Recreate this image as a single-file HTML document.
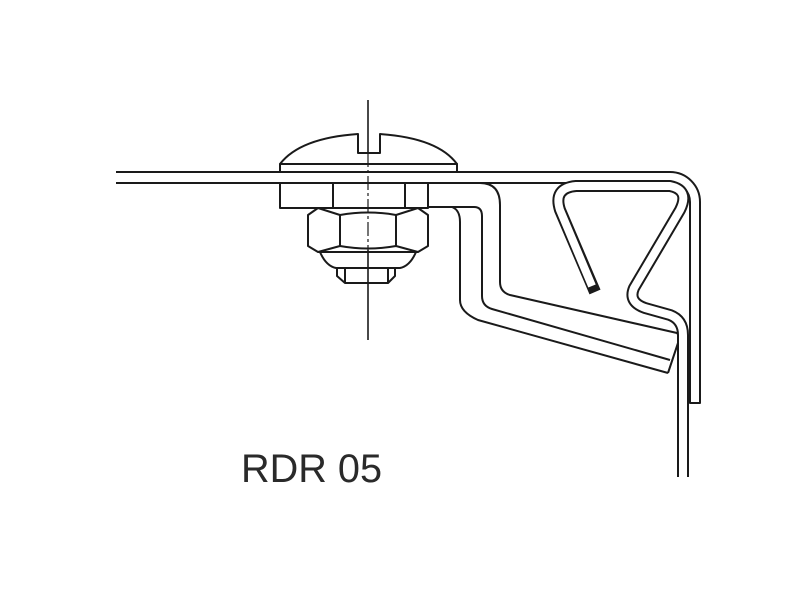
<!DOCTYPE html>
<html><head><style>
html,body{margin:0;padding:0;background:#fff;}
svg{display:block;}
</style></head><body>
<svg width="789" height="593" viewBox="0 0 789 593" xmlns="http://www.w3.org/2000/svg">
<g fill="none" stroke="#1a1a1a" stroke-width="2" stroke-linejoin="round">
<!-- screw head -->
<path d="M280,164 Q300,138 358,134 L358,153 L380,153 L380,134 Q438,138 457,164 Z" fill="#fff"/>
<rect x="280" y="164" width="177" height="8" fill="#fff"/>
<!-- top plate -->
<path d="M116,172 L670,172 A30,30 0 0 1 700,202 L700,403 L690,403 L690,202 A19,19 0 0 0 671,183 L116,183"/>
<!-- washer -->
<rect x="280" y="183" width="148" height="25" fill="#fff"/>
<line x1="333" y1="183" x2="333" y2="208"/>
<line x1="405" y1="183" x2="405" y2="208"/>
<!-- nut -->
<path d="M318,208 L308,215 L308,246 L318,252 L418,252 L428,246 L428,215 L418,208 Z" fill="#fff"/>
<path d="M318,208 L340,215 Q368,210 396,215 L418,208"/>
<path d="M318,252 L340,246 Q368,251 396,246 L418,252"/>
<line x1="340" y1="215" x2="340" y2="246"/>
<line x1="396" y1="215" x2="396" y2="246"/>
<path d="M320,252 Q326,266 336,268 L400,268 Q410,266 416,252"/>
<path d="M337,268 L337,276 L345,283 L388,283 L395,276 L395,268"/>
<line x1="345" y1="268" x2="345" y2="283"/>
<line x1="388" y1="268" x2="388" y2="283"/>
<!-- centerline -->
<line x1="368" y1="100" x2="368" y2="153" stroke-width="1.6"/>
<line x1="368" y1="153" x2="368" y2="250" stroke-width="1.2" stroke-dasharray="14,3,3,3"/>
<line x1="368" y1="250" x2="368" y2="340" stroke-width="1.6"/>
<!-- bracket -->
<path d="M428,183 L480,183 Q500,183 500,205 L500,282 Q500,292 510,295 L677,333"/>
<path d="M428,207 L474,207 Q482,207 482,216 L482,296 Q482,306 492,309 L670,360"/>
<path d="M452,207 Q460,210 460,222 L460,300 Q460,312 478,320 L668,373"/>
<path d="M677,333 L680,337 L668,373"/>
<!-- spring clip -->
<path d="M595,292 L560,210 Q553,188 576,186 L670,186 Q690,190 680,210 L634,288 Q628,302 645,308 L670,315 Q683,320 683,335 L683,477" stroke="#1a1a1a" stroke-width="12" stroke-linecap="butt"/>
<path d="M592,286 L560,210 Q553,188 576,186 L670,186 Q690,190 680,210 L634,288 Q628,302 645,308 L670,315 Q683,320 683,335 L683,478" stroke="#fff" stroke-width="8" stroke-linecap="butt"/>
</g>
<text x="241" y="482" font-family="Liberation Sans, Arial, sans-serif" font-size="40" fill="#2a2a2a" textLength="141" lengthAdjust="spacingAndGlyphs">RDR 05</text>
</svg>
</body></html>
